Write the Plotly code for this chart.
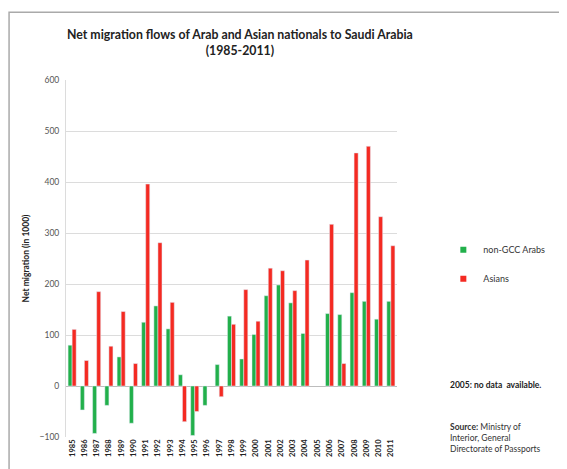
import plotly.graph_objects as go

years = [str(y) for y in range(1985, 2012)]
arabs = [80, -47, -93, -38, 57, -73, 125, 157, 112, 22, -97, -38, 42, 137, 53,
         101, 177, 198, 163, 103, None, 142, 140, 183, 166, 131, 166]
asians = [111, 50, 185, 78, 146, 44, 396, 281, 164, -70, -50, None, -21, 121, 189,
          127, 231, 226, 187, 247, None, 317, 44, 457, 470, 332, 275]

GREEN = "#22b04b"
RED = "#f42a22"
FONT = "Lato"

fig = go.Figure()
fig.add_trace(go.Bar(x=years, y=arabs, name="non-GCC Arabs", marker_color=GREEN,
                     showlegend=False))
fig.add_trace(go.Bar(x=years, y=asians, name="Asians", marker_color=RED,
                     showlegend=False))
# legend entries with small square symbols
fig.add_trace(go.Scatter(x=[None], y=[None], mode="markers", name="non-GCC Arabs",
                         marker=dict(symbol="square", size=6, color=GREEN),
                         legendgroup="a"))
fig.add_trace(go.Scatter(x=[None], y=[None], mode="markers", name="Asians",
                         marker=dict(symbol="square", size=6, color=RED),
                         legendgroup="b"))

fig.update_layout(
    width=567, height=469,
    margin=dict(l=58, r=178, t=72, b=40),
    paper_bgcolor="white", plot_bgcolor="white",
    barmode="group", bargap=0.34, bargroupgap=0.0,
    font=dict(family=FONT, size=9, color="#333"),
    title=dict(text="<b>Net migration flows of Arab and Asian nationals to Saudi Arabia<br>(1985-2011)</b>",
               x=0.409, xanchor="center", y=0.934, yanchor="top",
               font=dict(family=FONT, size=12.3, color="#222")),
    legend=dict(x=1.14, y=0.565, xanchor="left", yanchor="top",
                font=dict(family=FONT, size=9, color="#333"),
                tracegroupgap=10, itemwidth=30, bgcolor="rgba(0,0,0,0)"),
    showlegend=True,
)
fig.update_xaxes(type="category", tickangle=-90, showgrid=False,
                 tickfont=dict(family=FONT, size=7.5, color="#222", weight="bold"),
                 showline=False, ticks="", automargin=False)
fig.update_yaxes(range=[-100, 600], dtick=100, showgrid=True, gridcolor="#dcdcdc",
                 gridwidth=1, zeroline=True, zerolinecolor="#bdbdbd", zerolinewidth=1,
                 showline=True, linecolor="#dcdcdc", linewidth=1,
                 tickfont=dict(family=FONT, size=8.5, color="#555"),
                 ticks="outside", ticklen=4, tickcolor="rgba(0,0,0,0)",
                 automargin=False,
                 title=dict(text="<b>Net migration (in 1000)</b>", standoff=8,
                            font=dict(family=FONT, size=8.5, color="#222")))

fig.add_annotation(text="<b>2005: no data  available.</b>", xref="paper", yref="paper",
                   x=1.155, y=0.145, xanchor="left", yanchor="middle", showarrow=False,
                   font=dict(family=FONT, size=8.5, color="#222"))
fig.add_annotation(text="<b>Source:</b> Ministry of<br>Interior, General<br>Directorate of Passports",
                   xref="paper", yref="paper", x=1.155, y=0.048, xanchor="left",
                   yanchor="top", align="left", showarrow=False,
                   font=dict(family=FONT, size=8.5, color="#333"))

fig.add_shape(type="rect", xref="paper", yref="paper",
              x0=-0.172, x1=1.6, y0=-0.15, y1=1.19,
              line=dict(color="#aaaaaa", width=1.5), layer="below")

fig.write_html("out.html")
